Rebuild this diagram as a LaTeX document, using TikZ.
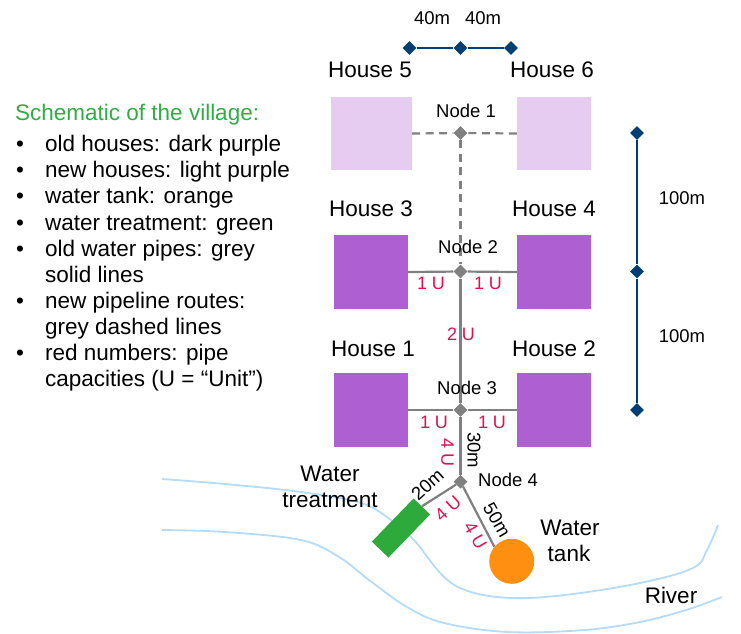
\documentclass[tikz,border=0pt]{standalone}
\usepackage{fontspec}
\setmainfont{Liberation Sans}
\usetikzlibrary{shapes.geometric}
\definecolor{darkhouse}{HTML}{AE60D2}
\definecolor{lighthouse}{HTML}{E5CCF0}
\definecolor{treatgreen}{HTML}{2EAA3C}
\definecolor{headgreen}{HTML}{2FAE44}
\definecolor{tankorange}{HTML}{FF8F10}
\definecolor{riverblue}{HTML}{B4DCF8}
\definecolor{navyline}{HTML}{003E74}
\definecolor{pipegrey}{HTML}{808080}
\definecolor{caped}{HTML}{E0114F}
\tikzset{
  x=1pt,y=-1pt,
  big/.style={inner sep=0pt,font=\fontsize{22.5}{24}\selectfont},
  listtext/.style={big,anchor=base west},
  small/.style={inner sep=0pt,font=\fontsize{18.5}{20}\selectfont},
  caplabel/.style={inner sep=0pt,font=\fontsize{18}{20}\selectfont,text=caped},
  oldhouse/.style={draw=none,fill=darkhouse,inner sep=0pt,minimum width=74pt,minimum height=74pt},
  newhouse/.style={draw=none,fill=lighthouse,inner sep=0pt,minimum height=73pt},
  junction/.style={diamond,fill=pipegrey,inner sep=0pt,minimum width=14pt,minimum height=14pt},
  tickmark/.style={diamond,fill=navyline,inner sep=0pt,minimum width=14pt,minimum height=14pt},
  oldpipe/.style={draw=pipegrey,line width=2.2pt},
  newpipe/.style={draw=pipegrey,line width=2.2pt,dash pattern=on 8pt off 5.5pt},
  dimline/.style={draw=navyline,line width=2.5pt},
  riverline/.style={draw=riverblue,line width=1.8pt},
}
\begin{document}
\begin{tikzpicture}
\useasboundingbox (0,0) rectangle (741,633);
% river
\draw[riverline] plot[smooth,tension=0.6] coordinates {(162,479) (225,484) (301,492) (361,503) (391,520) (414,540) (444,577) (471,592) (512,598) (565,595) (640,583) (693,568) (707,550) (718,525)};
\draw[riverline] plot[smooth,tension=0.6] coordinates {(162,530) (225,532) (301,540) (339,557) (369,580) (407,607) (444,623) (508,632) (584,630) (640,622) (686,610) (722,597)};
% houses
\node[newhouse,minimum width=81pt] (h5) at (371.5,133.5) {};
\node[newhouse,minimum width=74pt] (h6) at (554,133.5) {};
\node[oldhouse] (h3) at (371,272) {};
\node[oldhouse] (h4) at (554,272) {};
\node[oldhouse] (h1) at (371,410) {};
\node[oldhouse] (h2) at (554,410) {};
% treatment and tank
\node[draw=none,fill=treatgreen,inner sep=0pt,minimum width=60pt,minimum height=23pt,rotate=46] (treat) at (401,528) {};
\node[circle,fill=tankorange,inner sep=0pt,minimum size=45pt] (tank) at (511.7,561.3) {};
% pipes need the junctions, which are drawn on top of the lines
\node[junction] (n1) at (460.5,133) {};
\node[junction] (n2) at (460.5,271.5) {};
\node[junction] (n3) at (460.5,410) {};
\node[junction] (n4) at (460.5,481.7) {};
\draw[newpipe] (h5.east) -- (n1);
\draw[newpipe] (h6.west) -- (n1);
\draw[newpipe] (n1) -- (n2);
\draw[oldpipe] (h3.east) -- (n2);
\draw[oldpipe] (n2) -- (h4.west);
\draw[oldpipe] (n2) -- (n3);
\draw[oldpipe] (h1.east) -- (n3);
\draw[oldpipe] (n3) -- (h2.west);
\draw[oldpipe] (n3) -- (n4);
\draw[oldpipe] (n4) -- (treat.east);
\draw[oldpipe] (n4) -- (tank.140);
% dimensions
\node[tickmark] (d1) at (409.5,48) {};
\node[tickmark] (d2) at (460.5,48) {};
\node[tickmark] (d3) at (511,48) {};
\draw[dimline] (d1) -- (d2);
\draw[dimline] (d2) -- (d3);
\node[tickmark] (d4) at (637,133) {};
\node[tickmark] (d5) at (637,271.5) {};
\node[tickmark] (d6) at (637,410) {};
\draw[dimline] (d4) -- (d5);
\draw[dimline] (d5) -- (d6);
\node[small] (t40a) at (432,18) {40m};
\node[small] (t40b) at (483,18) {40m};
\node[small] (t100a) at (682,198) {100m};
\node[small] (t100b) at (682,336) {100m};
% house labels
\node[big] (l5) at (370,70) {House 5};
\node[big] (l6) at (552,70) {House 6};
\node[big] (l3) at (371,209) {House 3};
\node[big] (l4) at (554,209) {House 4};
\node[big] (l1) at (373,349) {House 1};
\node[big] (l2) at (554,349) {House 2};
% node labels
\node[small] (ln1) at (466,111) {Node 1};
\node[small] (ln2) at (468,247) {Node 2};
\node[small] (ln3) at (467,388) {Node 3};
\node[small] (ln4) at (508,480) {Node 4};
% capacities
\node[caplabel] (c1) at (431,283) {1 U};
\node[caplabel] (c2) at (488,283) {1 U};
\node[caplabel] (c3) at (461,334) {2 U};
\node[caplabel] (c4) at (434,422) {1 U};
\node[caplabel] (c5) at (492,422) {1 U};
\node[caplabel,rotate=-90] (c6) at (447.5,452) {4 U};
\node[caplabel,rotate=42] (c7) at (448,509) {4 U};
\node[caplabel,rotate=-60] (c8) at (475.5,535.5) {4 U};
% lengths
\node[small,rotate=-90] (m30) at (474,450) {30m};
\node[small,rotate=42] (m20) at (427.5,484.5) {20m};
\node[small,rotate=-60] (m50) at (497,520) {50m};
% place labels
\node[big] (w1) at (330,474) {Water};
\node[big] (w2) at (330,500) {treatment};
\node[big] (w3) at (570,528) {Water};
\node[big] (w4) at (569,553) {tank};
\node[big] (riv) at (671,595) {River};
% list
\node[listtext,text=headgreen] (head) at (15,120.7) {Schematic of the village:};
\node[listtext] (b1) at (16,151.7) {•};
\node[listtext] (i1) at (45,151.7) {old houses: dark purple};
\node[listtext] (b2) at (16,177.7) {•};
\node[listtext] (i2) at (45,177.7) {new houses: light purple};
\node[listtext] (b3) at (16,203.7) {•};
\node[listtext] (i3) at (45,203.7) {water tank: orange};
\node[listtext] (b4) at (16,230) {•};
\node[listtext] (i4) at (45,230) {water treatment: green};
\node[listtext] (b5) at (16,256) {•};
\node[listtext] (i5) at (45,256) {old water pipes: grey};
\node[listtext] (i5b) at (45,282) {solid lines};
\node[listtext] (b6) at (16,308) {•};
\node[listtext] (i6) at (45,308) {new pipeline routes:};
\node[listtext] (i6b) at (45,334) {grey dashed lines};
\node[listtext] (b7) at (16,360) {•};
\node[listtext] (i7) at (45,360) {red numbers: pipe};
\node[listtext] (i7b) at (45,386) {capacities (U = “Unit”)};
\end{tikzpicture}
\end{document}
